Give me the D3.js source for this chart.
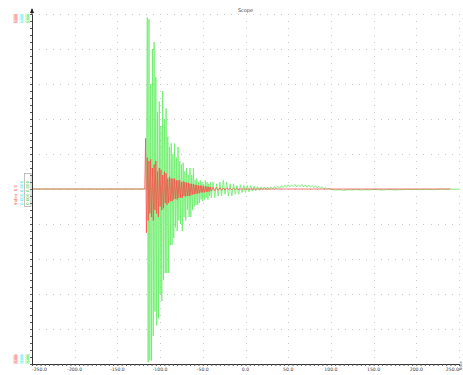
<!DOCTYPE html>
<html><head><meta charset="utf-8">
<script src="https://cdn.jsdelivr.net/npm/d3@7"></script>
<style>html,body{margin:0;padding:0;background:#fff;overflow:hidden}svg{display:block}</style>
</head><body><svg id="c" width="463" height="375"></svg>
<script>
// ---- data ----
const title = "Scope";
const xTicks = [-250, -200, -150, -100, -50, 0, 50, 100, 150, 200, 250];
const yTicks = [-5, -4, -3, -2, -1, 0, 1, 2, 3, 4, 5];
const times = [
 -250, -118,
 -117,-116,-115,-114,-113,-112,-111,-110,-109,-108,-107,-106,-105,-104,-103,-102,-101,-100,
 -99,-98,-97,-96,-95,-94,-93,-92,-91,-90,-89,-88,-87,-86,-85,-84,-83,-82,-81,-80,
 -79,-78,-77,-76,-75,-74,-73,-72,-71,-70,-69,-68,-67,-66,-65,-64,-63,-62,-61,-60,
 -59,-58,-57,-56,-55,-54,-53,-52,-51,-50,-49,-48,-47,-46,-45,-44,-43,-42,-41,-40,
 -38,-36,-34,-32,-30,-28,-26,-24,-22,-20,-18,-16,-14,-12,-10,-8,-6,-4,-2,0,
 2,4,6,8,10,12,14,16,18,20,22,24,26,28,30,32,34,36,38,40,
 42,44,46,48,50,52,54,56,58,60,62,64,66,68,70,72,74,76,78,80,
 82,84,86,88,90,92,94,96,98,100,
 105,110,115,120,125,130,135,140,145,150,155,160,165,170,175,180,185,190,195,200,
 205,210,215,220,225,230,235,240,245,250
];
const greenValues = [
 0, 0,
 0, 0, 4.9,-4.95, 4.85,-4.9, 3.0,-4.9, 4.0,-4.2, 4.2,-3.5, 3.2,-3.9, 2.2,-3.7, 2.5,-3.0,
 1.8,-3.2, 2.8,-2.6, 2.0,-2.4, 2.3,-2.4, 1.5,-2.4, 1.2,-1.6, 1.3,-1.6, 1.0,-1.4, 1.3,-1.1, 0.9,-1.2,
 1.2,-0.9, 0.8,-1.0, 0.7,-1.2, 0.75,-0.8, 0.5,-0.9, 0.6,-0.6, 0.4,-0.8, 0.6,-0.8, 0.4,-0.6, 0.6,-0.5,
 0.25,-0.45, 0.3,-0.45, 0.2,-0.4, 0.25,-0.3, 0.2,-0.35, 0.15,-0.3, 0.25,-0.25, 0.2,-0.3, 0.15,-0.2, 0.2,-0.25,
 0.2,-0.25, 0.15,-0.2, 0.2,-0.2, 0.25,-0.15, 0.2,-0.2, 0.15,-0.2, 0.15,-0.15, 0.1,-0.15, 0.12,-0.1, 0.1,-0.1,
 0.1,-0.08, 0.1,-0.06, 0.08,-0.05, 0.07,-0.04, 0.06,-0.03, 0.06,-0.02, 0.05,-0.02, 0.06,0.0, 0.07,0.01, 0.08,0.02,
 0.1,0.04, 0.11,0.05, 0.12,0.06, 0.12,0.07, 0.13,0.06, 0.12,0.07, 0.13,0.06, 0.12,0.05, 0.11,0.05, 0.1,0.04,
 0.09,0.03, 0.08,0.02, 0.06,0.01, 0.04,0.0, 0.02,-0.01,
 -0.03,-0.02,-0.04,-0.02,-0.03,-0.01,-0.03,-0.02,-0.03,-0.01,-0.02,-0.03,-0.02,-0.01,-0.03,-0.02,-0.02,-0.01,-0.02,-0.01,
 -0.02,-0.01,-0.01,-0.02,-0.01,0,-0.01,0,-0.01,0
];
const redValues = [
 0, 0,
 1.45,-1.25, 0.9,-0.9, 0.8,-0.7, 0.85,-0.8, 0.6,-0.9, 0.7,-0.6, 0.8,-0.7, 0.5,-0.8, 0.6,-0.5,
 0.55,-0.6, 0.4,-0.55, 0.5,-0.4, 0.45,-0.45, 0.3,-0.4, 0.35,-0.35, 0.3,-0.35, 0.3,-0.3, 0.3,-0.28, 0.25,-0.3,
 0.25,-0.25, 0.25,-0.25, 0.2,-0.25, 0.22,-0.2, 0.2,-0.22, 0.18,-0.2, 0.18,-0.2, 0.15,-0.18, 0.15,-0.16, 0.14,-0.15,
 0.12,-0.14, 0.12,-0.13, 0.1,-0.12, 0.1,-0.1, 0.1,-0.1, 0.08,-0.1, 0.08,-0.08, 0.07,-0.08, 0.06,-0.07, 0.06,-0.06,
 0.05,-0.05, 0.05,-0.04, 0.04,-0.04, 0.03,-0.03, 0.03,-0.02, 0.02,-0.02, 0.01,-0.01, 0.01,-0.01, 0,0,
 0,0,0,0,0,0,0,0,0,0,0,0,0,0,0,0,0,0,0,0,
 0,0,0,0,0,0,0,0,0,0,0,0,0,0,0,0,0,0,0,0,
 0,0,0,0,0,0,0,0,0,0,
 0,0,0,0,0,0,0,0,0,0,0,0,0,0,0,0,0,0,0,0,
 0,0,0,0,0,0,0,0,0,0
];
const sideTop = ["5.000", "5.000", "5.000"];
const sideBottom = ["-5.000", "-5.000", "-5.000"];
const sideMid = ["Index: 0.0", "0.000  0.000", "0.000  0.000"];
const sideColors = ["#ff4d4d", "#33dddd", "#33cc33"];
const sideFills = ["#ffd0d0", "#d0ffff", "#d0ffd0"];
const xAxisName = "Time";

// ---- drawing ----
const svg = d3.select("#c");
const x = d3.scaleLinear().domain([-250, 250]).range([32, 459]);
const y = d3.scaleLinear().domain([-5, 5]).range([364, 14]);

// dotted grid
const gGrid = svg.append("g").attr("fill", "#c8c8c8");
const xSub = [];
for (let i = 0; i < xTicks.length - 1; i++) for (let k = 0; k < 6; k++) xSub.push(xTicks[i] + k * (xTicks[i+1] - xTicks[i]) / 6);
xSub.push(xTicks[xTicks.length - 1]);
const ySub = [];
for (let i = 0; i < yTicks.length - 1; i++) for (let k = 0; k < 5; k++) ySub.push(yTicks[i] + k * (yTicks[i+1] - yTicks[i]) / 5);
ySub.push(yTicks[yTicks.length - 1]);
yTicks.slice(1).forEach(v => {
  xSub.filter(t => t > -250).forEach(t => gGrid.append("rect").attr("x", Math.round(x(t))).attr("y", Math.round(y(v))).attr("width", 1).attr("height", 1));
});
xTicks.slice(1).forEach(t => {
  ySub.forEach(v => gGrid.append("rect").attr("x", Math.round(x(t))).attr("y", Math.round(y(v))).attr("width", 1).attr("height", 1));
});

// series
const pts = times.map((t, i) => ({t, g: greenValues[i], r: redValues[i]}));
const line = key => d3.line().x(d => x(d.t)).y(d => y(d[key]));
svg.append("path").datum(pts).attr("d", line("g")).attr("fill", "none")
  .attr("stroke", "#66ee66").attr("stroke-width", 0.8);
svg.append("path").datum(pts).attr("d", line("r")).attr("fill", "none")
  .attr("stroke", "#ff4a4a").attr("stroke-width", 0.75);

// x axis
const xAxis = d3.axisBottom(x).tickValues(d3.range(-250, 251, 5)).tickSize(2).tickFormat("");
const gx = svg.append("g").attr("transform", "translate(0,364)").call(xAxis);
gx.select(".domain").attr("stroke", "#333");
gx.selectAll(".tick line").attr("stroke", "#555");
const gxl = svg.append("g").attr("font-family", "DejaVu Sans, sans-serif").attr("font-size", 4.6).attr("fill", "#444");
xTicks.forEach((t, i) => {
  gxl.append("text").attr("x", x(t)).attr("y", 370.5)
    .attr("text-anchor", i === 0 ? "start" : i === xTicks.length - 1 ? "end" : "middle")
    .text(t.toFixed(1));
});
svg.append("text").attr("transform", `translate(${x(250)+2.5},371) rotate(-90)`)
  .attr("font-family", "DejaVu Sans, sans-serif").attr("font-size", 4).attr("fill", "#555").text(xAxisName);

// y axis
const yAxis = d3.axisLeft(y).tickValues(ySub).tickSize(2).tickFormat("");
const gy = svg.append("g").attr("transform", "translate(32,0)").call(yAxis);
gy.select(".domain").attr("stroke", "#333");
gy.selectAll(".tick line").attr("stroke", "#555");
svg.append("line").attr("x1", 32).attr("x2", 32).attr("y1", 9).attr("y2", 14).attr("stroke", "#333");
svg.append("path").attr("d", "M32,8 L30,13 L34,13 Z").attr("fill", "#222");

// title
svg.append("text").attr("x", x(0)).attr("y", 12).attr("text-anchor", "middle")
  .attr("font-family", "DejaVu Sans, sans-serif").attr("font-size", 5).attr("fill", "#444").text(title);

// side channel labels
const sideX = [15.5, 21.5, 27.5];
const gs = svg.append("g").attr("font-family", "DejaVu Sans, sans-serif").attr("font-size", 4);
sideColors.forEach((c, i) => {
  [[sideTop[i], 14, "end"], [sideBottom[i], 364, "start"]].forEach(([txt, yy, anc]) => {
    const w = 9;
    const ry = anc === "end" ? yy : yy - w;
    gs.append("rect").attr("x", sideX[i] - 2.3).attr("y", ry).attr("width", 4.6).attr("height", w).attr("fill", sideFills[i]);
    gs.append("text").attr("transform", `translate(${sideX[i] + 1.4},${anc === "end" ? yy + w : yy}) rotate(-90)`)
      .attr("fill", c).attr("font-size", 3.2).text(txt);
  });
  gs.append("text").attr("transform", `translate(${sideX[i] + 1.4},${y(0) + 16}) rotate(-90)`)
    .attr("fill", c).attr("font-size", 4).text(sideMid[i]);
});
svg.append("rect").attr("x", 24.5).attr("y", 173.5).attr("width", 6.5).attr("height", 33).attr("fill", "none").attr("stroke", "#999").attr("stroke-width", 0.6);
</script></body></html>
